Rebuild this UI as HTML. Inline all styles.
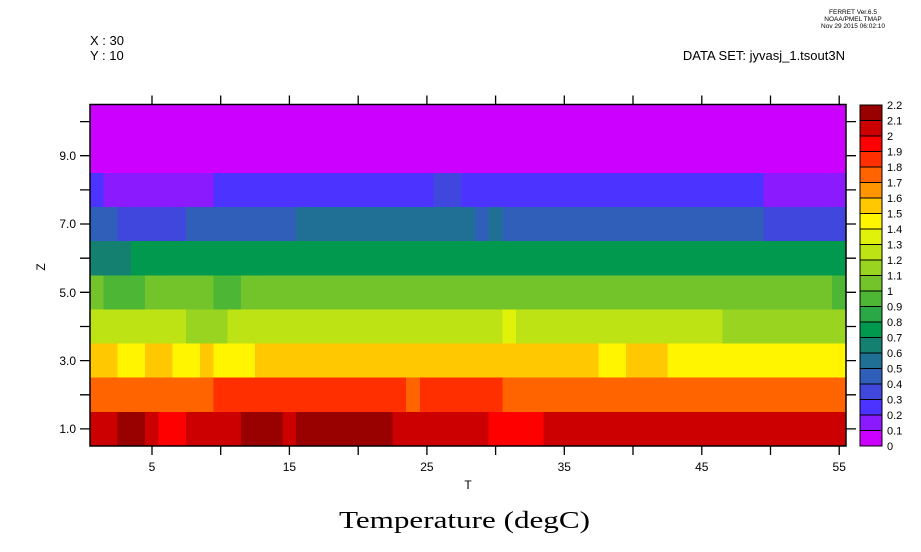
<!DOCTYPE html>
<html><head><meta charset="utf-8"><style>html,body{margin:0;padding:0;background:#fff}svg{display:block}</style></head>
<body>
<svg width="921" height="552" viewBox="0 0 921 552" xmlns="http://www.w3.org/2000/svg" font-family="Liberation Sans, sans-serif">
<rect width="921" height="552" fill="#fff"/>
<g transform="translate(90,104.5) scale(13.745,34.15)" shape-rendering="crispEdges">
<rect x="0" y="0" width="55" height="2" fill="#cc00ff"/>
<!-- z8 -->
<rect x="0" y="2" width="1" height="1" fill="#4d33ff"/>
<rect x="1" y="2" width="8" height="1" fill="#8c1aff"/>
<rect x="9" y="2" width="16" height="1" fill="#4d33ff"/>
<rect x="25" y="2" width="2" height="1" fill="#3f47dd"/>
<rect x="27" y="2" width="22" height="1" fill="#4d33ff"/>
<rect x="49" y="2" width="6" height="1" fill="#8c1aff"/>
<!-- z7 -->
<rect x="0" y="3" width="2" height="1" fill="#2f5fb8"/>
<rect x="2" y="3" width="5" height="1" fill="#3f47dd"/>
<rect x="7" y="3" width="8" height="1" fill="#2f5fb8"/>
<rect x="15" y="3" width="13" height="1" fill="#1f7094"/>
<rect x="28" y="3" width="1" height="1" fill="#2f5fb8"/>
<rect x="29" y="3" width="1" height="1" fill="#1f7094"/>
<rect x="30" y="3" width="19" height="1" fill="#2f5fb8"/>
<rect x="49" y="3" width="6" height="1" fill="#3f47dd"/>
<!-- z6 -->
<rect x="0" y="4" width="3" height="1" fill="#138070"/>
<rect x="3" y="4" width="52" height="1" fill="#00994d"/>
<!-- z5 -->
<rect x="0" y="5" width="55" height="1" fill="#73c42b"/>
<rect x="1" y="5" width="3" height="1" fill="#4db634"/>
<rect x="9" y="5" width="2" height="1" fill="#4db634"/>
<rect x="54" y="5" width="1" height="1" fill="#4db634"/>
<!-- z4 -->
<rect x="0" y="6" width="55" height="1" fill="#bde314"/>
<rect x="7" y="6" width="3" height="1" fill="#99d420"/>
<rect x="30" y="6" width="1" height="1" fill="#e0f20a"/>
<rect x="46" y="6" width="9" height="1" fill="#99d420"/>
<!-- z3 -->
<rect x="0" y="7" width="55" height="1" fill="#ffc800"/>
<rect x="2" y="7" width="2" height="1" fill="#fff500"/>
<rect x="6" y="7" width="2" height="1" fill="#fff500"/>
<rect x="9" y="7" width="3" height="1" fill="#fff500"/>
<rect x="37" y="7" width="2" height="1" fill="#fff500"/>
<rect x="42" y="7" width="13" height="1" fill="#fff500"/>
<!-- z2 -->
<rect x="0" y="8" width="55" height="1" fill="#ff6400"/>
<rect x="9" y="8" width="14" height="1" fill="#ff2f00"/>
<rect x="24" y="8" width="6" height="1" fill="#ff2f00"/>
<!-- z1 -->
<rect x="0" y="9" width="55" height="1" fill="#cc0000"/>
<rect x="2" y="9" width="2" height="1" fill="#990000"/>
<rect x="5" y="9" width="2" height="1" fill="#ff0000"/>
<rect x="11" y="9" width="3" height="1" fill="#990000"/>
<rect x="15" y="9" width="7" height="1" fill="#990000"/>
<rect x="29" y="9" width="4" height="1" fill="#ff0000"/>
</g>
<rect x="90" y="104.5" width="756" height="341.5" fill="none" stroke="#000" stroke-width="1.5"/>
<g stroke="#000" stroke-width="1.3">
<!-- bottom/top ticks every 5 -->
<path d="M152 446v9M220.7 446v9M289.4 446v9M358.2 446v9M426.9 446v9M495.6 446v9M564.3 446v9M633 446v9M701.8 446v9M770.5 446v9M839.2 446v9"/>
<path d="M152 104.5v-9M220.7 104.5v-9M289.4 104.5v-9M358.2 104.5v-9M426.9 104.5v-9M495.6 104.5v-9M564.3 104.5v-9M633 104.5v-9M701.8 104.5v-9M770.5 104.5v-9M839.2 104.5v-9"/>
<path d="M90 121.6h-10M90 155.7h-10M90 189.9h-10M90 224h-10M90 258.2h-10M90 292.3h-10M90 326.5h-10M90 360.6h-10M90 394.8h-10M90 428.9h-10"/>
<path d="M846 121.6h10M846 155.7h10M846 189.9h10M846 224h10M846 258.2h10M846 292.3h10M846 326.5h10M846 360.6h10M846 394.8h10M846 428.9h10"/>
</g>
<g font-size="12" fill="#000" text-anchor="middle">
<text x="152" y="471">5</text><text x="289.4" y="471">15</text><text x="426.9" y="471">25</text>
<text x="564.3" y="471">35</text><text x="701.8" y="471">45</text><text x="839.2" y="471">55</text>
<text x="468" y="489">T</text>
</g>
<g font-size="12" fill="#000" text-anchor="end">
<text x="76" y="160">9.0</text><text x="76" y="228">7.0</text><text x="76" y="297">5.0</text>
<text x="76" y="365">3.0</text><text x="76" y="433">1.0</text>
</g>
<text x="49" y="271" font-size="12" transform="rotate(-90 45 271)" text-anchor="middle">Z</text>
<text x="90" y="45" font-size="13">X : 30</text>
<text x="90" y="60" font-size="13">Y : 10</text>
<text x="845" y="60" font-size="13" text-anchor="end">DATA SET: jyvasj_1.tsout3N</text>
<g font-size="6.5" text-anchor="middle">
<text x="853" y="14">FERRET  Ver.6.5</text>
<text x="853" y="21">NOAA/PMEL TMAP</text>
<text x="853" y="28">Nov 29 2015 06:02:10</text>
</g>
<text x="339" y="528" font-family="Liberation Serif, serif" font-size="24" textLength="251" lengthAdjust="spacingAndGlyphs">Temperature (degC)</text>
<!-- colorbar -->
<g shape-rendering="crispEdges" stroke="#000" stroke-width="1">
<rect x="860" y="105" width="22" height="15.5" fill="#990000"/>
<rect x="860" y="120.5" width="22" height="15.5" fill="#cc0000"/>
<rect x="860" y="136" width="22" height="15.5" fill="#ff0000"/>
<rect x="860" y="151.5" width="22" height="15.5" fill="#ff2f00"/>
<rect x="860" y="167" width="22" height="15.5" fill="#ff6400"/>
<rect x="860" y="182.5" width="22" height="15.5" fill="#ff9600"/>
<rect x="860" y="198" width="22" height="15.5" fill="#ffc800"/>
<rect x="860" y="213.5" width="22" height="15.5" fill="#fff500"/>
<rect x="860" y="229" width="22" height="15.5" fill="#e0f20a"/>
<rect x="860" y="244.5" width="22" height="15.5" fill="#bde314"/>
<rect x="860" y="260" width="22" height="15.5" fill="#99d420"/>
<rect x="860" y="275.5" width="22" height="15.5" fill="#73c42b"/>
<rect x="860" y="291" width="22" height="15.5" fill="#4db634"/>
<rect x="860" y="306.5" width="22" height="15.5" fill="#2aa845"/>
<rect x="860" y="322" width="22" height="15.5" fill="#00994d"/>
<rect x="860" y="337.5" width="22" height="15.5" fill="#138070"/>
<rect x="860" y="353" width="22" height="15.5" fill="#1f7094"/>
<rect x="860" y="368.5" width="22" height="15.5" fill="#2f5fb8"/>
<rect x="860" y="384" width="22" height="15.5" fill="#3f47dd"/>
<rect x="860" y="399.5" width="22" height="15.5" fill="#4d33ff"/>
<rect x="860" y="415" width="22" height="15.5" fill="#8c1aff"/>
<rect x="860" y="430.5" width="22" height="15.5" fill="#cc00ff"/>
</g>
<g font-size="11" fill="#000">
<text x="887" y="109">2.2</text><text x="887" y="124.5">2.1</text><text x="887" y="140">2</text>
<text x="887" y="155.5">1.9</text><text x="887" y="171">1.8</text><text x="887" y="186.5">1.7</text>
<text x="887" y="202">1.6</text><text x="887" y="217.5">1.5</text><text x="887" y="233">1.4</text>
<text x="887" y="248.5">1.3</text><text x="887" y="264">1.2</text><text x="887" y="279.5">1.1</text>
<text x="887" y="295">1</text><text x="887" y="310.5">0.9</text><text x="887" y="326">0.8</text>
<text x="887" y="341.5">0.7</text><text x="887" y="357">0.6</text><text x="887" y="372.5">0.5</text>
<text x="887" y="388">0.4</text><text x="887" y="403.5">0.3</text><text x="887" y="419">0.2</text>
<text x="887" y="434.5">0.1</text><text x="887" y="450">0</text>
</g>
</svg>
</body></html>
